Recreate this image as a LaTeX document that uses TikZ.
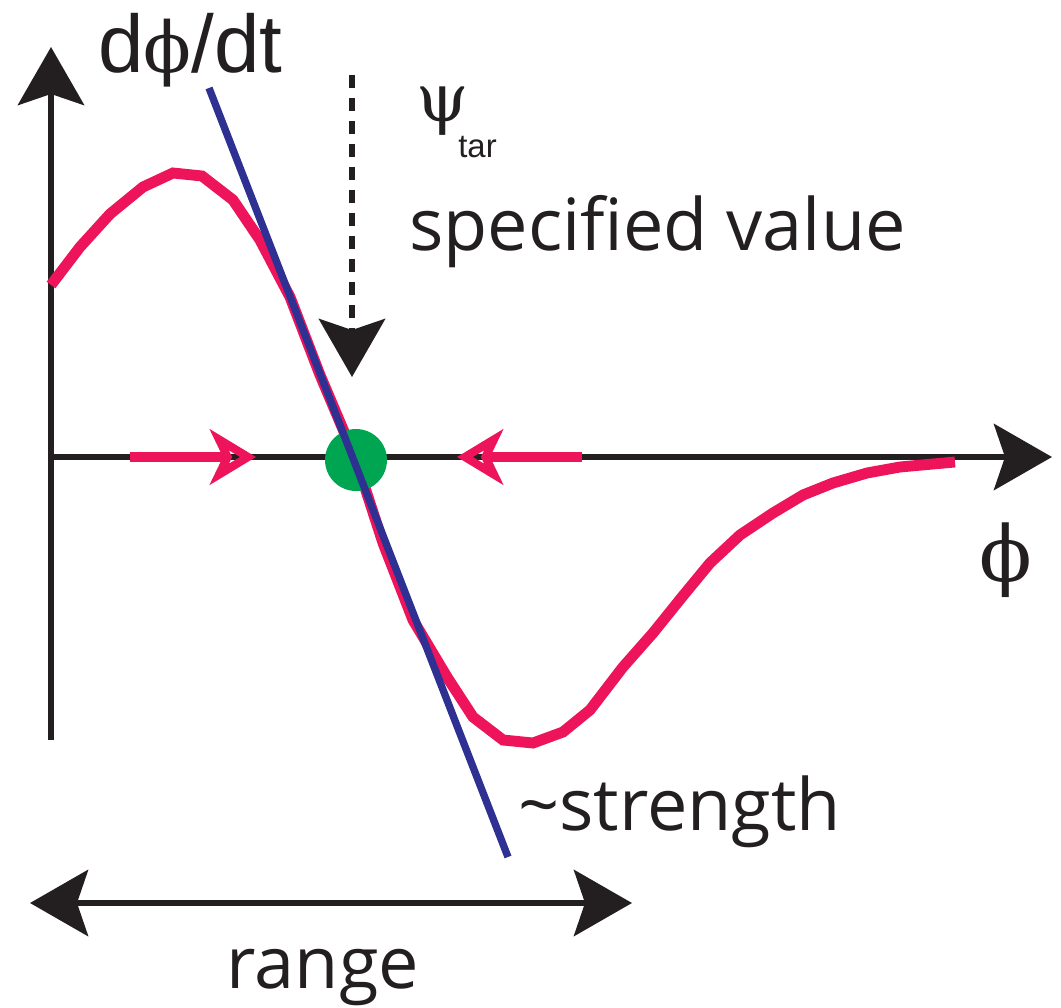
\RequirePackage{fix-cm}
\documentclass[tikz,border=0pt]{standalone}
\usepackage{fontspec}
\setmainfont{Open Sans}
\newfontfamily\arialfont{Liberation Sans}
\newfontfamily\greekfont{DejaVu Serif}
\usetikzlibrary{arrows.meta,positioning}
\definecolor{inkblack}{RGB}{35,31,32}
\definecolor{curvered}{RGB}{237,20,91}
\definecolor{slopeblue}{RGB}{46,49,146}
\definecolor{fixgreen}{RGB}{0,165,81}
\tikzset{
  bighead/.tip={Stealth[length=1.16cm,width=1.32cm,inset=0.22cm]},
  axisline/.style={draw=inkblack, line width=3.8pt},
  flowline/.style={draw=curvered, line width=5.4pt, -{Stealth[open,length=0.92cm,width=1.1cm,inset=0.26cm]}},
  labeltext/.style={inner sep=0pt, text=inkblack, font=\fontsize{41}{48}\selectfont}
}
\begin{document}
\begin{tikzpicture}[x=0.02cm, y=-0.02cm]
  \useasboundingbox (0,0) rectangle (1061,1007);

  % axes
  \coordinate (origin) at (51,457);
  \coordinate (ybottom) at (51,740);
  \coordinate (ytop) at (51,47);
  \coordinate (xright) at (1052,457);
  \draw[axisline, -bighead] (ybottom) -- (ytop);
  \draw[axisline, -bighead] (origin) -- (xright);

  % rate curve
  \draw[curvered, line width=6.2pt] plot coordinates {
    (51,285) (80,247) (110,214) (143,187) (173,173) (202,176) (233,200)
    (260,240) (290,297) (320,375) (356,460) (383,543) (413,620) (447,677)
    (473,717) (503,740) (533,743) (563,732) (590,710) (623,667) (653,633)
    (682,597) (710,563) (740,535) (773,513) (803,495) (833,483) (867,473)
    (900,467) (955,462)};

  % flow towards the fixed point
  \coordinate (leftstart) at (130,457);
  \coordinate (lefttip) at (256,457);
  \coordinate (rightstart) at (582,457);
  \coordinate (righttip) at (457,457);
  \draw[flowline] (leftstart) -- (lefttip);
  \draw[flowline] (rightstart) -- (righttip);

  \node[circle, fill=fixgreen, minimum size=1.24cm, inner sep=0pt] (fix) at (356,460) {};

  % slope at the fixed point
  \coordinate (slopetop) at (209,88);
  \coordinate (slopebot) at (508,857);
  \draw[slopeblue, line width=4.2pt] (slopetop) -- (slopebot);

  % target value
  \coordinate (tgttop) at (352,75);
  \coordinate (tgt) at (352,377);
  \draw[axisline, dash pattern=on 0.26cm off 0.2cm, -bighead] (tgttop) -- (tgt);

  % range
  \coordinate (rangeleft) at (30,903);
  \coordinate (rangeright) at (632,903);
  \draw[axisline, bighead-bighead] (rangeleft) -- (rangeright);

  % labels
  \node[labeltext, anchor=base west, font=\arialfont\fontsize{46.5}{50}\selectfont] (rate) at (98,72) {d{\greekfont\fontsize{40}{44}\selectfont ϕ}/dt};
  \node[labeltext, anchor=base west, font=\greekfont\fontsize{38}{44}\selectfont] (psi) at (416,121) {ψ};
  \node[labeltext, anchor=base west, font=\arialfont\fontsize{18.7}{20}\selectfont] (tar) at (458,157) {tar};
  \node[labeltext, anchor=base west] (spec) at (409,250) {specified value};
  \node[labeltext, anchor=base west] (strength) at (518,830) {\textasciitilde strength};
  \node[labeltext, anchor=base] (range) at (323,988) {range};
  \node[labeltext, anchor=base, font=\greekfont\fontsize{44}{50}\selectfont] (phiaxis) at (1006,581) {ϕ};
\end{tikzpicture}
\end{document}
